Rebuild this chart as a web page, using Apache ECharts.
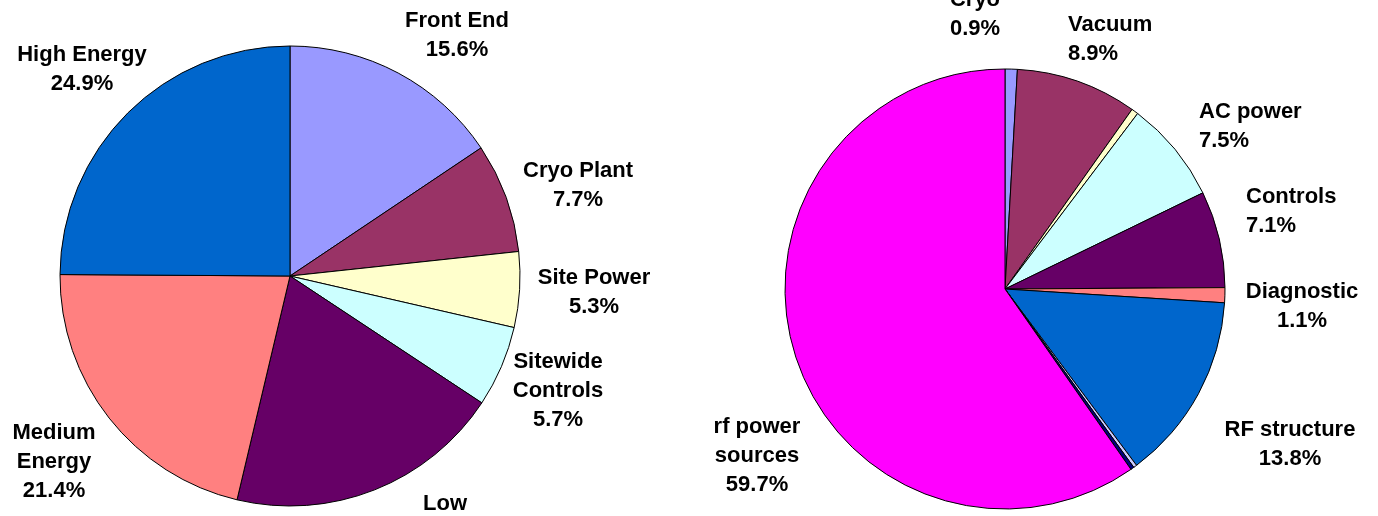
<!DOCTYPE html>
<html>
<head>
<meta charset="utf-8">
<script src="https://cdn.jsdelivr.net/npm/echarts@6/dist/echarts.min.js"></script>
<style>
  html, body { margin: 0; padding: 0; background: #fff; }
  #chart { width: 1378px; height: 516px; }
</style>
</head>
<body>
<div id="chart"></div>
<script>
// Left pie - project cost by area
var leftNames  = ['Front End', 'Cryo Plant', 'Site Power', 'Sitewide\nControls', 'Low\nEnergy', 'Medium\nEnergy', 'High Energy'];
var leftValues = [15.6, 7.7, 5.3, 5.7, 19.4, 21.4, 24.9];
var leftColors = ['#9999ff', '#993366', '#ffffcc', '#ccffff', '#660066', '#ff8080', '#0066cc'];

// Right pie - cost by system (three thin unlabelled slices)
var rightNames  = ['Cryo', 'Vacuum', '', 'AC power', 'Controls', 'Diagnostic', 'RF structure', '', '', 'rf power\nsources'];
var rightValues = [0.9, 8.9, 0.5, 7.5, 7.1, 1.1, 13.8, 0.25, 0.25, 59.7];
var rightColors = ['#9999ff', '#993366', '#ffffcc', '#ccffff', '#660066', '#ff8080', '#0066cc', '#ccccff', '#000080', '#ff00ff'];

// label anchors [x, top, align] per series, same order as the data
var labelSpots = [
    [[457, 6, 'center'], [578, 156, 'center'], [594, 263, 'center'], [558, 347, 'center'],
     [445, 489, 'center'], [54, 418, 'center'], [82, 40, 'center']],
    [[975, -15, 'center'], [1068, 10, 'left'], null, [1199, 97, 'left'], [1246, 182, 'left'],
     [1302, 277, 'center'], [1290, 415, 'center'], null, null, [757, 412, 'center']]
];

function buildData(names, values, colors) {
    return names.map(function (n, i) {
        return {
            name: n,
            value: values[i],
            itemStyle: { color: colors[i] },
            label: { show: n !== '' }
        };
    });
}

var pieBase = {
    type: 'pie',
    startAngle: 90,
    clockwise: true,
    percentPrecision: 1,
    avoidLabelOverlap: false,
    silent: true,
    animation: false,
    itemStyle: { borderColor: '#000', borderWidth: 1 },
    label: {
        position: 'outside',
        formatter: '{b}\n{d}%',
        fontFamily: 'Liberation Sans, Arial, sans-serif',
        fontWeight: 'bold',
        fontSize: 22,
        lineHeight: 29,
        color: '#000'
    },
    labelLine: { show: false },
    labelLayout: function (params) {
        var spot = labelSpots[params.seriesIndex][params.dataIndex];
        if (!spot) return {};
        return { x: spot[0], y: spot[1], align: spot[2], verticalAlign: 'top' };
    }
};

var chart = echarts.init(document.getElementById('chart'));
chart.setOption({
    backgroundColor: '#fff',
    series: [
        Object.assign({}, pieBase, {
            center: [290, 276],
            radius: 230,
            data: buildData(leftNames, leftValues, leftColors)
        }),
        Object.assign({}, pieBase, {
            center: [1005, 289],
            radius: 220,
            data: buildData(rightNames, rightValues, rightColors)
        })
    ]
});
</script>
</body>
</html>
